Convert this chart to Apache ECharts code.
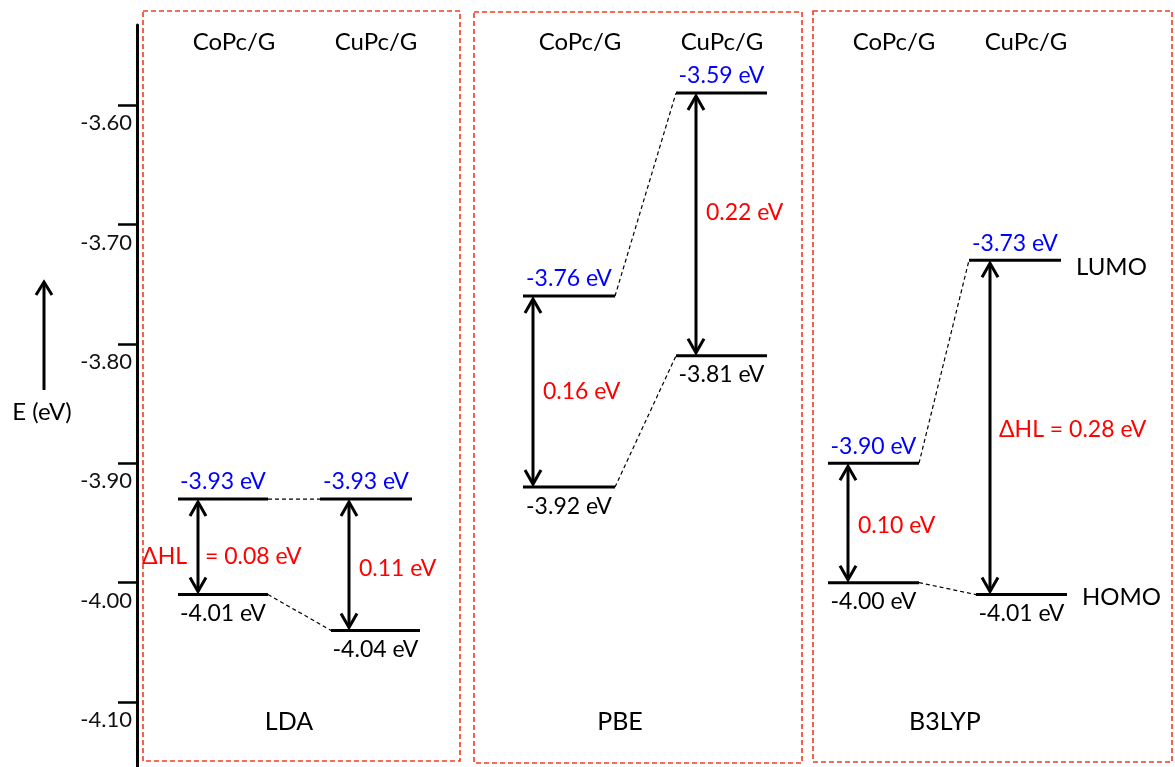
<!DOCTYPE html>
<html>
<head>
<meta charset="utf-8">
<title>HOMO–LUMO levels of CoPc/G and CuPc/G</title>
<script src="https://cdn.jsdelivr.net/npm/echarts@6/dist/echarts.min.js"></script>
<style>
  html, body { margin: 0; padding: 0; background: #ffffff; }
  #chart { width: 1175px; height: 767px; }
</style>
</head>
<body>
<div id="chart"></div>
<script>
// ---- data ----
const methods = ['LDA', 'PBE', 'B3LYP'];
const systems = ['CoPc/G', 'CuPc/G'];
// frontier orbital energies (eV), one pair [CoPc/G, CuPc/G] per functional
const lumoLevels = [[-3.93, -3.93], [-3.76, -3.59], [-3.90, -3.73]];
const homoLevels = [[-4.01, -4.04], [-3.92, -3.81], [-4.00, -4.01]];
const yTicks = [-3.60, -3.70, -3.80, -3.90, -4.00, -4.10];
const yTickLabels = ['-3.60', '-3.70', '-3.80', '-3.90', '-4.00', '-4.10'];
const orbitalNames = ['LUMO', 'HOMO'];
const axisTitle = 'E (eV)';
const gapPrefix = '\u0394HL';

// ---- layout ----
const FONT = 'Lato, "Open Sans", "DejaVu Sans", sans-serif';
const GRID = { left: 137, right: 0, top: 25, bottom: 0 };
const Y_MIN = -4.1544, Y_MAX = -3.533;
// horizontal placement of each column (x in canvas pixels)
const cols = [
  [ { lumo: [178, 268], homo: [178, 268], arrow: 198, gapMode: 'split',  gapDy: 10, title: 234 },
    { lumo: [320, 412], homo: [331, 420], arrow: 349, gapMode: 'plain',  gapDy: 4,  title: 376 } ],
  [ { lumo: [523, 615], homo: [523, 615], arrow: 533, gapMode: 'plain',  gapDy: 0,  title: 580 },
    { lumo: [676, 767], homo: [676, 767], arrow: 696, gapMode: 'plain',  gapDy: -12, title: 722 } ],
  [ { lumo: [828, 919], homo: [828, 919], arrow: 848, gapMode: 'plain',  gapDy: 3,  title: 894 },
    { lumo: [969, 1061], homo: [976, 1067], arrow: 990, gapMode: 'inline', gapDy: 2, title: 1026 } ]
];
const panels = [
  { x0: 143, x1: 460, y0: 11, y1: 761, labelX: 289 },
  { x0: 474, x1: 802, y0: 12, y1: 763, labelX: 620 },
  { x0: 813, x1: 1172, y0: 11, y1: 762, labelX: 945 }
];
const BLUE = '#0000ff', RED = '#ff0000', BOX = '#f23b24';

// ---- series data built from the arrays above ----
const levelData = [];
const gapData = [];
const linkData = [];
methods.forEach((m, mi) => {
  systems.forEach((s, si) => {
    levelData.push([mi, si, 0, lumoLevels[mi][si]]);
    levelData.push([mi, si, 1, homoLevels[mi][si]]);
    gapData.push([mi, si, lumoLevels[mi][si], homoLevels[mi][si]]);
  });
  linkData.push([mi, 0, lumoLevels[mi][0], lumoLevels[mi][1]]);
  linkData.push([mi, 1, homoLevels[mi][0], homoLevels[mi][1]]);
});

function txt(text, x, y, color, size, align) {
  return {
    type: 'text',
    style: { text, x, y, fill: color, fontSize: size, fontFamily: FONT,
             align: align || 'center', verticalAlign: 'middle' }
  };
}

function renderLevel(params, api) {
  const mi = api.value(0), si = api.value(1), k = api.value(2), E = api.value(3);
  const c = cols[mi][si];
  const xr = k === 0 ? c.lumo : c.homo;
  const p0 = api.coord([xr[0], E]);
  const p1 = api.coord([xr[1], E]);
  const children = [
    { type: 'line', shape: { x1: p0[0], y1: p0[1], x2: p1[0], y2: p1[1] },
      style: { stroke: '#000', lineWidth: 3 } },
    txt(E.toFixed(2) + ' eV', (p0[0] + p1[0]) / 2, p0[1] + (k === 0 ? -17 : 19),
        k === 0 ? BLUE : '#000', 23)
  ];
  if (mi === methods.length - 1 && si === systems.length - 1) {
    children.push(txt(orbitalNames[k], p1[0] + 15, p0[1] + (k === 0 ? 7 : 3), '#000', 24, 'left'));
  }
  return { type: 'group', children };
}

function renderGap(params, api) {
  const mi = api.value(0), si = api.value(1), lu = api.value(2), ho = api.value(3);
  const c = cols[mi][si];
  const top = api.coord([c.arrow, lu]);
  const bot = api.coord([c.arrow, ho]);
  const x = top[0], yT = top[1] + 3, yB = bot[1] - 3;
  const stroke = { stroke: '#000', lineWidth: 3, fill: null, lineJoin: 'miter', lineCap: 'butt' };
  const children = [
    { type: 'line', shape: { x1: x, y1: yT + 1, x2: x, y2: yB - 1 }, style: stroke },
    { type: 'polyline', shape: { points: [[x - 8, yT + 14], [x, yT], [x + 8, yT + 14]] }, style: stroke },
    { type: 'polyline', shape: { points: [[x - 8, yB - 14], [x, yB], [x + 8, yB - 14]] }, style: stroke }
  ];
  const gap = (lu - ho).toFixed(2) + ' eV';
  const ym = (top[1] + bot[1]) / 2 + c.gapDy;
  if (c.gapMode === 'split') {
    children.push(txt(gapPrefix, x - 11, ym, RED, 23, 'right'));
    children.push(txt('= ' + gap, x + 7, ym, RED, 23, 'left'));
  } else if (c.gapMode === 'inline') {
    children.push(txt(gapPrefix + ' = ' + gap, x + 9, ym, RED, 23, 'left'));
  } else {
    children.push(txt(gap, x + 10, ym, RED, 23, 'left'));
  }
  return { type: 'group', children };
}

function renderLink(params, api) {
  const mi = api.value(0), k = api.value(1), e0 = api.value(2), e1 = api.value(3);
  const a = cols[mi][0], b = cols[mi][1];
  const xa = (k === 0 ? a.lumo : a.homo)[1];
  const xb = (k === 0 ? b.lumo : b.homo)[0];
  const p0 = api.coord([xa, e0]);
  const p1 = api.coord([xb, e1]);
  return { type: 'line', shape: { x1: p0[0], y1: p0[1], x2: p1[0], y2: p1[1] },
           style: { stroke: '#000', lineWidth: 1.2, lineDash: [4, 3] } };
}

// ---- decorations: dashed panel frames, column and method titles, energy arrow ----
const graphics = [];
panels.forEach((p, i) => {
  graphics.push({ type: 'rect', shape: { x: p.x0, y: p.y0, width: p.x1 - p.x0, height: p.y1 - p.y0 },
                  style: { fill: null, stroke: BOX, lineWidth: 1.6, lineDash: [5, 3] }, z: 1 });
  graphics.push({ type: 'text', style: { text: methods[i], x: p.labelX, y: 722, fill: '#000',
                  fontSize: 25, fontFamily: FONT, align: 'center', verticalAlign: 'middle' } });
  systems.forEach((s, si) => {
    graphics.push({ type: 'text', style: { text: s, x: cols[i][si].title, y: 42, fill: '#000',
                    fontSize: 24, fontFamily: FONT, align: 'center', verticalAlign: 'middle' } });
  });
});
graphics.push({ type: 'line', shape: { x1: 44, y1: 390, x2: 44, y2: 283 },
                style: { stroke: '#000', lineWidth: 3 } });
graphics.push({ type: 'polyline', shape: { points: [[36, 295], [44, 282], [52, 295]] },
                style: { stroke: '#000', lineWidth: 3, fill: null, lineJoin: 'miter' } });
graphics.push({ type: 'text', style: { text: axisTitle, x: 42, y: 412, fill: '#000',
                fontSize: 24, fontFamily: FONT, align: 'center', verticalAlign: 'middle' } });

const chart = echarts.init(document.getElementById('chart'), null, { renderer: 'canvas' });
chart.setOption({
  animation: false,
  backgroundColor: '#ffffff',
  grid: GRID,
  xAxis: { type: 'value', min: GRID.left, max: 1175, show: false },
  yAxis: {
    type: 'value',
    min: Y_MIN,
    max: Y_MAX,
    splitLine: { show: false },
    axisLine: { show: true, lineStyle: { color: '#000', width: 3 } },
    axisTick: { show: true, customValues: yTicks, length: 19, inside: false,
                lineStyle: { color: '#000', width: 2.5 } },
    axisLabel: {
      customValues: yTicks,
      margin: 5,
      color: '#111',
      fontSize: 22,
      fontFamily: FONT,
      verticalAlign: 'top',
      padding: [7, 0, 0, 0],
      formatter: (v) => {
        const i = yTicks.findIndex(t => Math.abs(t - v) < 1e-6);
        return i >= 0 ? yTickLabels[i] : '';
      }
    }
  },
  graphic: graphics,
  series: [
    { type: 'custom', name: 'links', renderItem: renderLink, data: linkData, z: 2, silent: true },
    { type: 'custom', name: 'gaps', renderItem: renderGap, data: gapData, z: 3, silent: true },
    { type: 'custom', name: 'levels', renderItem: renderLevel, data: levelData, z: 4, silent: true }
  ]
});
</script>
</body>
</html>
